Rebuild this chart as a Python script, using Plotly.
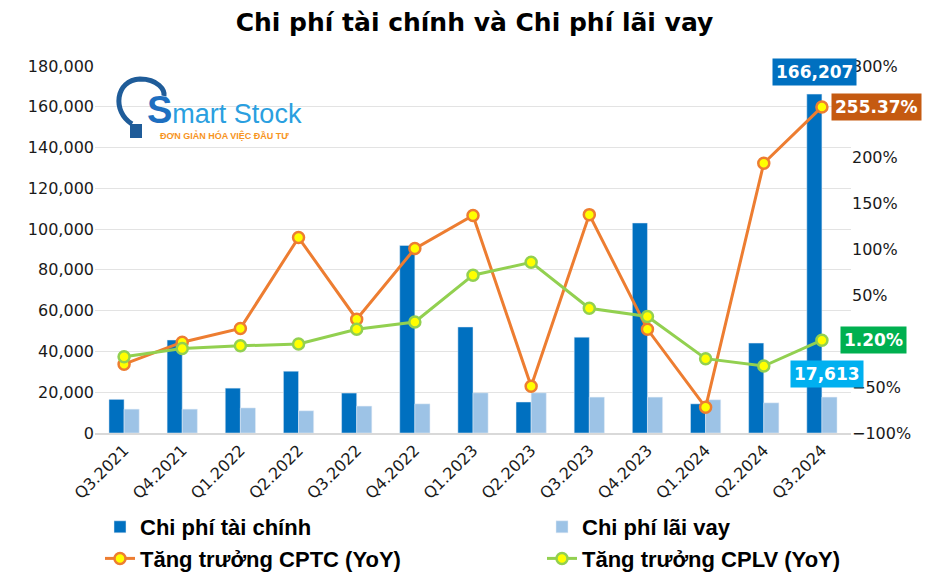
import plotly.graph_objects as go

quarters = ["Q3.2021", "Q4.2021", "Q1.2022", "Q2.2022", "Q3.2022", "Q4.2022", "Q1.2023",
            "Q2.2023", "Q3.2023", "Q4.2023", "Q1.2024", "Q2.2024", "Q3.2024"]
chi_phi_tai_chinh = [16500, 45600, 22000, 30300, 19600, 92000, 52000, 15200, 47000, 103000, 14300, 44100, 166207]
chi_phi_lai_vay = [11700, 11700, 12300, 10900, 13200, 14300, 19700, 19700, 17600, 17600, 16300, 14800, 17613]
tang_truong_cptc = [-25, -1, 14, 113, 24, 101, 137, -49, 138, 13, -72, 194, 255.37]
tang_truong_cplv = [-17, -8, -5, -3, 13, 21, 72, 86, 36, 27, -19, -27, 1.20]

# page body has an 8px default margin: lay out in reference pixels minus that offset
O = 8
W, H = 941 - O, 585 - O
L, T = 95 - O, 66 - O
R = W - (851 - O)
B = H - (433 - O)
PW, PH = W - L - R, H - T - B


def px(x):
    return (x - O - L) / PW


def py(y):
    return (H - B - (y - O)) / PH


tick_font = dict(family="DejaVu Sans", size=16, color="#1A1A1A")

fig = go.Figure()
fig.add_trace(go.Bar(x=quarters, y=chi_phi_tai_chinh, name="Chi phí tài chính",
                     marker_color="#0070C0", yaxis="y", legend="legend"))
fig.add_trace(go.Bar(x=quarters, y=chi_phi_lai_vay, name="Chi phí lãi vay",
                     marker_color="#9DC3E6", yaxis="y", legend="legend2"))
fig.add_trace(go.Scatter(x=quarters, y=tang_truong_cptc, name="Tăng trưởng CPTC (YoY)",
                         mode="lines+markers", yaxis="y2", legend="legend",
                         line=dict(color="#ED7D31", width=3),
                         marker=dict(size=11, color="#FFFF00", line=dict(color="#ED7D31", width=2.5))))
fig.add_trace(go.Scatter(x=quarters, y=tang_truong_cplv, name="Tăng trưởng CPLV (YoY)",
                         mode="lines+markers", yaxis="y2", legend="legend2",
                         line=dict(color="#92D050", width=3),
                         marker=dict(size=11, color="#FFFF00", line=dict(color="#92D050", width=2.5))))

lab_font = dict(family="DejaVu Sans", size=17, color="white", weight="bold")
ann = []
last = quarters[-1]
ann.append(dict(x=last, y=chi_phi_tai_chinh[-1], xref="x", yref="y", text=f"{chi_phi_tai_chinh[-1]:,}",
                showarrow=False, xshift=-7, yshift=22, bgcolor="#0070C0", font=lab_font, borderpad=3))
ann.append(dict(x=last, y=chi_phi_lai_vay[-1], xref="x", yref="y", text=f"{chi_phi_lai_vay[-1]:,}",
                showarrow=False, xshift=5, yshift=23, bgcolor="#00B0F0", font=lab_font, borderpad=3))
ann.append(dict(x=last, y=tang_truong_cptc[-1], xref="x", yref="y2", text=f"{tang_truong_cptc[-1]:.2f}%",
                showarrow=False, xshift=55, yshift=0, bgcolor="#C55A11", font=lab_font, borderpad=3))
ann.append(dict(x=last, y=tang_truong_cplv[-1], xref="x", yref="y2", text=f"{tang_truong_cplv[-1]:.2f}%",
                showarrow=False, xshift=52, yshift=0, bgcolor="#00B050", font=lab_font, borderpad=3))

# logo (decoration)
ann.append(dict(x=px(145), y=py(110), xref="paper", yref="paper",
                text="<span style='font-size:38px;color:#1E6FC0;font-weight:bold'>S</span>mart Stock",
                showarrow=False, xanchor="left", yanchor="middle",
                font=dict(family="Liberation Sans", size=27, color="#2A9FE0")))
ann.append(dict(x=px(158), y=py(135), xref="paper", yref="paper", text="ĐƠN GIẢN HÓA VIỆC ĐẦU TƯ",
                showarrow=False, xanchor="left", yanchor="middle",
                font=dict(family="Liberation Sans", size=9, color="#F7941D", weight="bold")))

shapes = [
    dict(type="path", xref="paper", yref="paper",
         path=(f"M {px(132)} {py(124)} C {px(112)} {py(112)}, {px(115)} {py(80)}, {px(140)} {py(79)} "
               f"C {px(158)} {py(79)}, {px(165)} {py(90)}, {px(164)} {py(96)}"),
         line=dict(color="#1F5C99", width=5)),
    dict(type="rect", xref="paper", yref="paper", x0=px(130), x1=px(142), y0=py(138), y1=py(124),
         fillcolor="#1F5C99", line=dict(width=0)),
]

legend_font = dict(family="Liberation Sans", size=22, color="#000000", weight="bold")

fig.update_layout(
    width=W, height=H,
    margin=dict(l=L, r=R, t=T, b=B, autoexpand=False),
    paper_bgcolor="white", plot_bgcolor="white",
    barmode="group", bargap=0.48, bargroupgap=0,
    title=dict(text="<b>Chi phí tài chính và Chi phí lãi vay</b>", x=0.5, xanchor="center",
               y=1 - (22 - O) / H, yanchor="middle",
               font=dict(family="DejaVu Sans", size=25, color="#000000")),
    xaxis=dict(tickangle=-45, tickfont=tick_font, showgrid=False, showline=True,
               linecolor="#D9D9D9", linewidth=1.5, ticks="", automargin=False,
               range=[-0.5, len(quarters) - 0.5]),
    yaxis=dict(range=[0, 180000], dtick=20000, tickformat=",", tickfont=tick_font, automargin=False,
               showgrid=True, gridcolor="#E3E3E3", zeroline=False, ticks="", ticklen=0),
    yaxis2=dict(range=[-100, 300], dtick=50, ticksuffix="%", tickfont=tick_font, overlaying="y",
                side="right", showgrid=False, zeroline=False, ticks="", automargin=False),
    legend=dict(orientation="v", x=px(100), xanchor="left", y=py(506), yanchor="top",
                tracegroupgap=0, itemwidth=30, font=legend_font, bgcolor="rgba(0,0,0,0)"),
    legend2=dict(orientation="v", x=px(542), xanchor="left", y=py(506), yanchor="top",
                 tracegroupgap=0, itemwidth=30, font=legend_font, bgcolor="rgba(0,0,0,0)"),
    annotations=ann,
    shapes=shapes,
    hovermode=False,
    showlegend=True,
)

fig.write_html("out.html")
